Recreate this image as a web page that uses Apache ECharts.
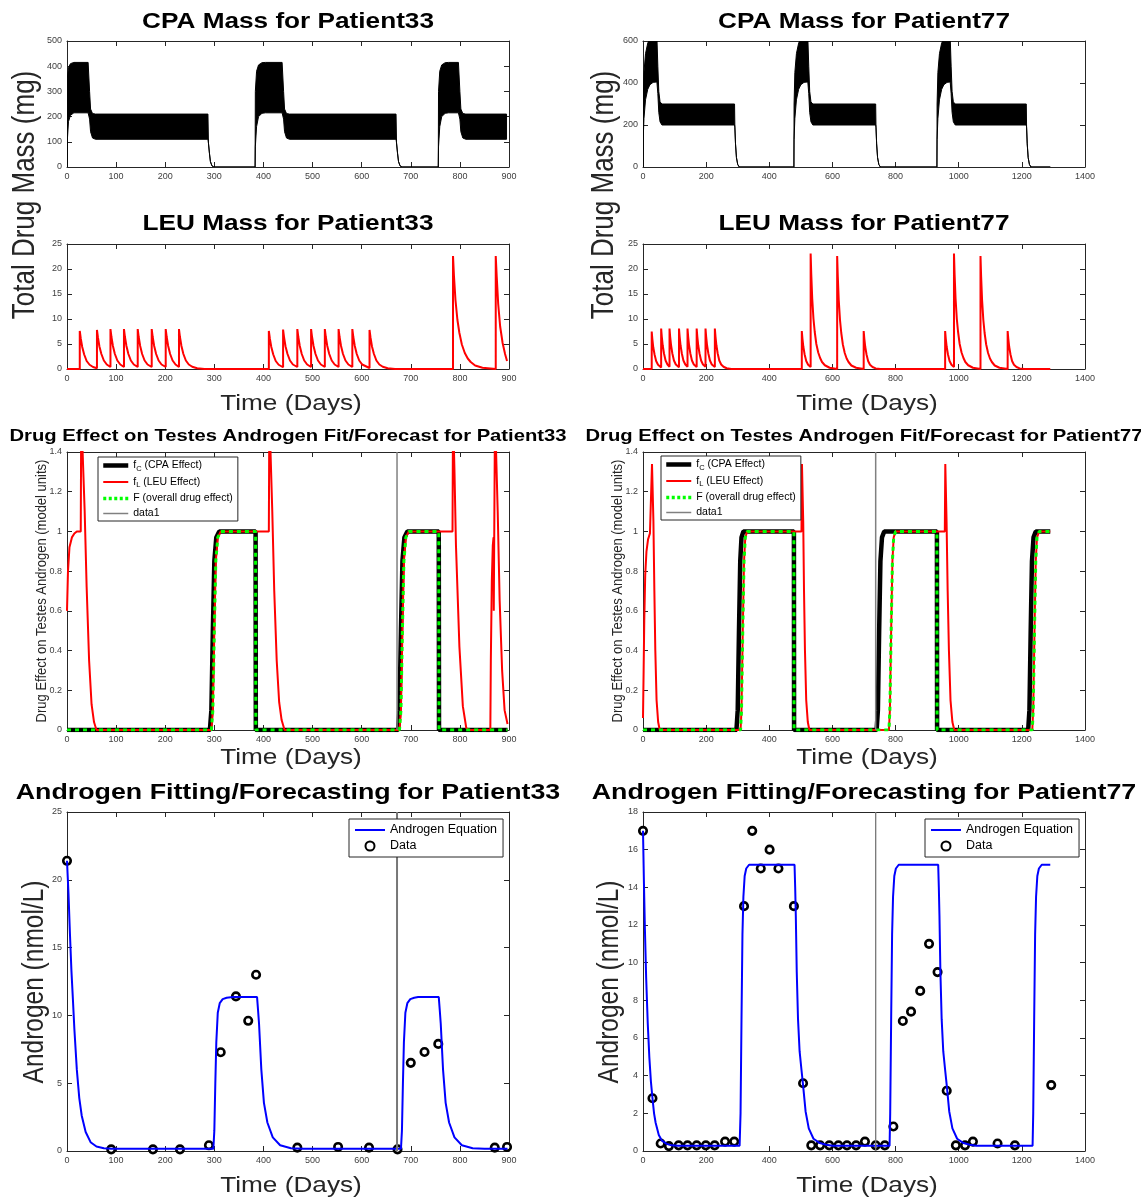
<!DOCTYPE html>
<html>
<head>
<meta charset="utf-8">
<title>Drug mass, drug effect and androgen fits for Patient33 / Patient77</title>
<script src="https://cdn.jsdelivr.net/npm/echarts/dist/echarts.min.js"></script>
<style>
  html, body { margin: 0; padding: 0; background: #fff; }
  #main { width: 1141px; height: 1203px; }
</style>
</head>
<body>
<div id="main"></div>
<script type="text/javascript">
  // ---------- CPA mass: dense daily dosing shows up as a band, so keep lower / upper envelope ----------
  var cpa33Days = [0, 0.5, 3, 7, 14, 43, 46, 48, 52, 58, 287, 288, 290, 292, 295, 299, 383, 383.5, 386, 390, 397, 404, 438, 441, 443, 447, 453, 670, 671, 673, 675, 678, 682, 756, 756.5, 759, 763, 770, 777, 797, 800, 802, 806, 812, 895];
  var cpa33Low  = [0, 100, 180, 205, 215, 215, 190, 140, 115, 110, 110, 95, 55, 22, 5, 0, 0, 80, 160, 200, 213, 215, 215, 190, 140, 115, 110, 110, 95, 55, 22, 5, 0, 0, 80, 160, 200, 213, 215, 215, 190, 140, 115, 110, 110];
  var cpa33High = [0, 350, 395, 410, 415, 415, 300, 230, 212, 210, 210, 95, 55, 22, 5, 0, 0, 300, 380, 405, 414, 415, 415, 300, 230, 212, 210, 210, 95, 55, 22, 5, 0, 0, 300, 380, 405, 414, 415, 415, 300, 230, 212, 210, 210];

  var cpa77Days = [0, 0.5, 3, 8, 15, 22, 32, 44, 47, 50, 54, 60, 290, 291, 293, 296, 300, 305, 478, 478.5, 481, 486, 493, 500, 510, 522, 525, 528, 532, 538, 737, 738, 740, 743, 747, 752, 931, 931.5, 934, 939, 946, 953, 963, 973, 976, 979, 983, 989, 1214, 1215, 1217, 1220, 1224, 1229, 1290];
  var cpa77Low  = [0, 130, 230, 320, 370, 392, 403, 405, 350, 260, 215, 200, 200, 190, 110, 45, 12, 0, 0, 130, 230, 320, 370, 392, 403, 405, 350, 260, 215, 200, 200, 190, 110, 45, 12, 0, 0, 130, 230, 320, 370, 392, 403, 405, 350, 260, 215, 200, 200, 190, 110, 45, 12, 0, 0];
  var cpa77High = [0, 300, 450, 540, 590, 610, 620, 620, 480, 360, 310, 300, 300, 190, 110, 45, 12, 0, 0, 300, 450, 540, 590, 610, 620, 620, 480, 360, 310, 300, 300, 190, 110, 45, 12, 0, 0, 300, 450, 540, 590, 610, 620, 620, 480, 360, 310, 300, 300, 190, 110, 45, 12, 0, 0];

  // ---------- LEU mass [day, mg] ----------
  var leu33 = [[0,0],[26,0],[26,7.6],[28,6.1],[31,4.4],[35,2.9],[40,1.6],[46,0.85],[53,0.4],[61,0.15],
    [61,7.8],[63,6.3],[66,4.5],[70,3.0],[75,1.7],[81,0.9],[88.5,0.4],
    [88.5,8.0],[90.5,6.4],[93.5,4.6],[97.5,3.0],[102.5,1.7],[108.5,0.9],[116,0.4],
    [116,8.0],[118,6.4],[121,4.6],[125,3.0],[130,1.7],[136,0.9],[144,0.4],
    [144,8.0],[146,6.4],[149,4.6],[153,3.0],[158,1.7],[164,0.9],[172.5,0.4],
    [172.5,8.0],[174.5,6.4],[177.5,4.6],[181.5,3.0],[186.5,1.7],[192.5,0.9],[201,0.4],
    [201,8.0],[203,6.4],[206,4.6],[210,3.0],[215,1.7],[221,0.9],[228,0.4],
    [228,8.0],[230,6.4],[233,4.6],[237,3.0],[242,1.7],[248,0.9],[255,0.45],[265,0.15],[280,0.02],[300,0],
    [411,0],[411,7.6],[413,6.1],[416,4.4],[420,2.9],[425,1.6],[431,0.85],[440,0.35],
    [440,7.9],[442,6.3],[445,4.5],[449,3.0],[454,1.7],[460,0.9],[469,0.4],
    [469,8.0],[471,6.4],[474,4.6],[478,3.0],[483,1.7],[489,0.9],[497,0.4],
    [497,8.0],[499,6.4],[502,4.6],[506,3.0],[511,1.7],[517,0.9],[525,0.4],
    [525,8.0],[527,6.4],[530,4.6],[534,3.0],[539,1.7],[545,0.9],[553,0.4],
    [553,8.0],[555,6.4],[558,4.6],[562,3.0],[567,1.7],[573,0.9],[581,0.4],
    [581,8.0],[583,6.4],[586,4.6],[590,3.0],[595,1.7],[601,0.9],[616,0.2],
    [616,7.8],[618,6.3],[621,4.5],[625,3.0],[630,1.7],[636,0.9],[643,0.45],[653,0.15],[668,0.02],[690,0],
    [786,0],[786,22.6],[788,18.5],[791,13.8],[795,9.8],[799,7.2],[804,4.9],[810,3.2],[816,2.1],[822,1.4],[831,0.7],[846,0.25],[873,0.02],
    [873,22.6],[875,18.5],[878,13.0],[882,8.5],[887,5.2],[892,3.0],[896,1.6]];

  var leu77 = [[0,0],[27.6,0],[27.6,7.5],[29.6,6.0],[32.6,4.3],[36.6,2.9],[41.6,1.6],[47.6,0.85],[57.5,0.3],
    [57.5,8.1],[59.5,6.5],[62.5,4.7],[66.5,3.1],[71.5,1.7],[77.5,0.9],[84,0.45],
    [84,8.1],[86,6.5],[89,4.7],[93,3.1],[98,1.7],[104,0.9],[114,0.35],
    [114,8.1],[116,6.5],[119,4.7],[123,3.1],[128,1.7],[134,0.9],[141,0.45],
    [141,8.1],[143,6.5],[146,4.7],[150,3.1],[155,1.7],[161,0.9],[170,0.4],
    [170,8.1],[172,6.5],[175,4.7],[179,3.1],[184,1.7],[190,0.9],[198,0.45],
    [198,8.1],[200,6.5],[203,4.7],[207,3.1],[212,1.7],[218,0.9],[227.6,0.4],
    [227.6,8.1],[229.6,6.5],[232.6,4.7],[236.6,3.1],[241.6,1.7],[247.6,0.9],[255,0.45],[265,0.15],[280,0.02],[300,0],
    [503,0],[503,7.6],[505,6.1],[508,4.4],[512,2.9],[517,1.6],[523,0.85],[531,0.4],
    [531,23.1],[533,18.9],[536,14.1],[540,10.0],[544,7.4],[549,5.0],[555,3.3],[561,2.2],[567,1.4],[576,0.75],[591,0.25],[615,0.02],
    [615,22.6],[617,18.5],[620,13.8],[624,9.8],[628,7.2],[633,4.9],[639,3.2],[645,2.1],[651,1.4],[660,0.7],[675,0.25],[699,0.02],
    [699,7.6],[701,6.1],[704,4.4],[708,2.9],[713,1.6],[719,0.85],[727,0.4],[737,0.12],[752,0.02],[770,0],
    [957,0],[957,7.6],[959,6.1],[962,4.4],[966,2.9],[971,1.6],[977,0.85],[985,0.4],
    [985,23.1],[987,18.9],[990,14.1],[994,10.0],[998,7.4],[1003,5.0],[1009,3.3],[1015,2.2],[1021,1.4],[1030,0.75],[1045,0.25],[1069,0.02],
    [1069,22.6],[1071,18.5],[1074,13.8],[1078,9.8],[1082,7.2],[1087,4.9],[1093,3.2],[1099,2.1],[1105,1.4],[1114,0.7],[1129,0.25],[1155,0.02],
    [1155,7.6],[1157,6.1],[1160,4.4],[1164,2.9],[1169,1.6],[1175,0.85],[1183,0.4],[1193,0.12],[1208,0.02],[1226,0],[1290,0]];

  // ---------- drug effect on testes androgen [day, value] ----------
  var fC33 = [[0,0],[291,0],[294,0.1],[297,0.5],[300,0.85],[304,0.97],[310,1],[384,1],[384.5,0],[674,0],[677,0.1],[680,0.5],[683,0.85],[687,0.97],[693,1],[757,1],[757.5,0],[897,0]];
  var fL33 = [[0,0.6],[2,0.8],[5,0.92],[10,0.97],[15,0.99],[20,1],[28,1],[29,1.6],[33,1.6],[36,1.1],[40,0.72],[45,0.35],[50,0.13],[55,0.04],[60,0],
    [294,0],[297,0.1],[300,0.5],[303,0.85],[307,0.97],[313,1],[411,1],[412,1.6],[414.5,1.6],[418,1.1],[422,0.7],[427,0.35],[432,0.14],[437,0.05],[443,0],
    [677,0],[680,0.1],[683,0.5],[686,0.85],[690,0.97],[696,1],[785,1],[786,1.6],[789,1.3],[792,0.93],[799,0.42],[806,0.12],[813,0.01],[818,0],
    [862,0],[863,0.35],[865,0.75],[867,0.93],[868.5,0.97],[869,0.6],[870.5,0.6],[871.5,1.6],[874,1.6],[877,1.1],[881,0.65],[886,0.3],[891,0.1],[897,0.03]];
  var F33  = [[0,0],[294,0],[297,0.1],[300,0.5],[303,0.85],[307,0.97],[313,1],[384,1],[384.5,0],[677,0],[680,0.1],[683,0.5],[686,0.85],[690,0.97],[696,1],[757,1],[757.5,0],[897,0]];
  var split33 = 672;

  var fC77 = [[0,0],[296,0],[300,0.1],[304,0.5],[308,0.85],[312,0.97],[318,1],[478,1],[478.5,0],[740,0],[744,0.1],[748,0.5],[752,0.85],[757,0.97],[764,1],[931,1],[931.5,0],[1220,0],[1224,0.1],[1228,0.5],[1232,0.85],[1237,0.97],[1244,1],[1290,1]];
  var fL77 = [[0,0.06],[2,0.3],[4,0.55],[7,0.78],[11,0.9],[16,0.96],[22,0.99],[27,1],[28.5,1.34],[31,1.34],[33,1.05],[36,0.7],[39,0.4],[43,0.15],[48,0.04],[53,0],
    [309,0],[312,0.1],[316,0.5],[320,0.85],[324,0.97],[330,1],[502,1],[503.5,1.34],[505.5,1.34],[507.5,1.05],[510,0.7],[513,0.4],[517,0.15],[522,0.04],[527,0],
    [779,0],[782,0.1],[786,0.5],[790,0.85],[794,0.97],[800,1],[956,1],[957.5,1.34],[959.5,1.34],[961.5,1.05],[965,0.7],[969,0.4],[974,0.15],[980,0.04],[986,0],
    [1233,0],[1236,0.1],[1240,0.5],[1244,0.85],[1248,0.97],[1255,1],[1290,1]];
  var F77  = [[0,0],[309,0],[312,0.1],[316,0.5],[320,0.85],[324,0.97],[330,1],[478,1],[478.5,0],[779,0],[782,0.1],[786,0.5],[790,0.85],[794,0.97],[800,1],[931,1],[931.5,0],[1233,0],[1236,0.1],[1240,0.5],[1244,0.85],[1248,0.97],[1255,1],[1290,1]];
  var split77 = 737;

  // ---------- androgen (nmol/L) ----------
  var andro33 = [[0,21.4],[3,19],[6,16],[9,13.3],[12,11.2],[15,9],[20,6],[25,3.9],[30,2.6],[38,1.4],[48,0.65],[60,0.33],[75,0.2],[90,0.16],
    [298,0.16],[300,1.5],[302,5],[304,8],[307,10.2],[311,10.9],[317,11.2],[325,11.3],[338,11.35],[387,11.35],[389,10.4],[391,9.4],[395.7,6],[401,3.55],[408,2.1],[419,1],[434,0.42],[456,0.2],[480,0.16],
    [680,0.16],[682,1.5],[684,5],[686,8],[689,10.2],[693,10.9],[699,11.2],[707,11.3],[715,11.35],[757,11.35],[759,10.4],[761,9.4],[765.7,6],[771,3.55],[778,2.1],[789,1],[804,0.42],[826,0.2],[850,0.16],[897,0.16]];
  var data33Days = [0, 90, 175, 230, 289, 313, 344, 369, 385, 469, 552, 615, 673, 700, 728, 756, 871, 896];
  var data33Vals = [21.4, 0.12, 0.12, 0.12, 0.42, 7.28, 11.4, 9.6, 13.0, 0.25, 0.3, 0.25, 0.12, 6.5, 7.3, 7.9, 0.25, 0.3];

  var andro77 = [[0,17],[3,14.2],[6,11.8],[10,9.2],[15,6.8],[20,5],[25,3.7],[30,2.8],[35,2],[40,1.5],[50,0.85],[60,0.55],[75,0.38],[90,0.3],[110,0.28],
    [306,0.28],[309,2],[312,7],[315,11.5],[318,13.5],[322,14.6],[327,15],[336,15.2],[480,15.2],[482,14],[484,12.5],[487,9.5],[491,7],[496,5.3],[502,4.3],[507,3.5],[515,2.1],[525,1.2],[540,0.65],[560,0.42],[580,0.33],[600,0.28],
    [781,0.28],[783,2],[786,7],[789,11.5],[792,13.5],[796,14.6],[801,15],[810,15.2],[935,15.2],[937,14],[939,12.5],[942,9.5],[946,7],[951,5.3],[957,4.3],[962,3.5],[970,2.1],[980,1.2],[995,0.65],[1015,0.42],[1035,0.33],[1055,0.28],
    [1234,0.28],[1236,2],[1239,7],[1242,11.5],[1245,13.5],[1249,14.6],[1254,15],[1263,15.2],[1290,15.2]];
  var data77Days = [0, 30, 56, 82, 113, 141, 170, 199, 227, 260, 289, 320, 346, 373, 401, 429, 478, 507, 533, 561, 590, 619, 646, 675, 703, 737, 766, 793, 823, 849, 878, 906, 933, 962, 991, 1020, 1045, 1123, 1178, 1293];
  var data77Vals = [17.0, 2.8, 0.4, 0.26, 0.3, 0.3, 0.3, 0.3, 0.3, 0.5, 0.5, 13.0, 17.0, 15.0, 16.0, 15.0, 13.0, 3.6, 0.3, 0.3, 0.3, 0.3, 0.3, 0.3, 0.5, 0.3, 0.3, 1.3, 6.9, 7.4, 8.5, 11.0, 9.5, 3.2, 0.3, 0.3, 0.5, 0.4, 0.3, 3.5];

  // axis ranges [min, max, interval] per panel: CPA33, CPA77, LEU33, LEU77, eff33, eff77, andro33, andro77
  var xRanges = [[0,900,100],[0,1400,200],[0,900,100],[0,1400,200],[0,900,100],[0,1400,200],[0,900,100],[0,1400,200]];
  var yRanges = [[0,500,100],[0,600,200],[0,25,5],[0,25,5],[0,1.4,0.2],[0,1.4,0.2],[0,25,5],[0,18,2]];

  // ---------- layout ----------
  var FONT = '"Liberation Sans", Arial, Helvetica, sans-serif';
  var STRETCH = 1.19; // the source figure is a bit wider than tall
  var colLeft = [67, 643], plotW = 442;
  var rows = [[41, 126], [244, 125], [452, 278], [812, 339]];
  var axisColor = '#262626';

  var grid = [], xAxis = [], yAxis = [];
  for (var g = 0; g < 8; g++) {
    var r = rows[Math.floor(g / 2)], c = colLeft[g % 2];
    grid.push({left: c, top: r[0], width: plotW, height: r[1], containLabel: false});
    var base = {
      gridIndex: g, type: 'value', splitLine: {show: false},
      axisLine: {onZero: false, lineStyle: {color: axisColor, width: 1}},
      axisTick: {inside: true, length: 5, lineStyle: {color: axisColor, width: 1}}
    };
    var lab = {fontSize: 9, color: '#404040', fontFamily: FONT, margin: 5,
               formatter: function (v) { return String(+v.toFixed(6)); }};
    var xr = xRanges[g], yr = yRanges[g];
    xAxis.push(Object.assign({}, base, {min: xr[0], max: xr[1], interval: xr[2], position: 'bottom', axisLabel: lab}));
    xAxis.push(Object.assign({}, base, {min: xr[0], max: xr[1], interval: xr[2], position: 'top', axisLabel: {show: false}}));
    yAxis.push(Object.assign({}, base, {min: yr[0], max: yr[1], interval: yr[2], position: 'left', axisLabel: lab}));
    yAxis.push(Object.assign({}, base, {min: yr[0], max: yr[1], interval: yr[2], position: 'right', axisLabel: {show: false}}));
  }

  function pairs(xs, ys) {
    return xs.map(function (x, i) { return [x, ys[i]]; });
  }

  function line(g, name, data, color, width, more) {
    return Object.assign({
      type: 'line', name: name, xAxisIndex: 2 * g, yAxisIndex: 2 * g,
      data: data, showSymbol: false, symbol: 'none', clip: true,
      lineStyle: {color: color, width: width}, itemStyle: {color: color}
    }, more || {});
  }

  // CPA band: polygon between upper and lower envelope, placed through the axes
  function band(g, days, lo, hi) {
    return {
      type: 'custom', name: 'cpa' + g, xAxisIndex: 2 * g, yAxisIndex: 2 * g, clip: true,
      data: [[days[0], lo[0]]],
      renderItem: function (params, api) {
        var pts = [];
        for (var i = 0; i < days.length; i++) pts.push(api.coord([days[i], hi[i]]));
        for (var j = days.length - 1; j >= 0; j--) pts.push(api.coord([days[j], lo[j]]));
        return {
          type: 'polygon', shape: {points: pts},
          style: {fill: '#000', stroke: '#000', lineWidth: 1}
        };
      }
    };
  }

  var series = [];
  series.push(band(0, cpa33Days, cpa33Low, cpa33High));
  series.push(band(1, cpa77Days, cpa77Low, cpa77High));
  series.push(line(2, 'leu33', leu33, '#ff0000', 2));
  series.push(line(3, 'leu77', leu77, '#ff0000', 2));

  [[4, fC33, fL33, F33, split33], [5, fC77, fL77, F77, split77]].forEach(function (p) {
    var g = p[0];
    series.push(line(g, 'fC', p[1], '#000000', 4.5));
    series.push(line(g, 'fL', p[2], '#ff0000', 2));
    series.push(line(g, 'F', p[3], '#00ff00', 3, {lineStyle: {color: '#00ff00', width: 3, type: [4, 4]}}));
    series.push(line(g, 'data1', [[p[4], 0], [p[4], 1.4]], '#808080', 1.5));
  });

  [[6, andro33, data33Days, data33Vals, split33, 25, 2], [7, andro77, data77Days, data77Vals, split77, 18, 1.3]].forEach(function (p) {
    var g = p[0];
    series.push(line(g, 'Androgen Equation', p[1], '#0000ff', 2));
    series.push({
      type: 'scatter', name: 'Data', xAxisIndex: 2 * g, yAxisIndex: 2 * g,
      data: pairs(p[2], p[3]), symbol: 'circle', symbolSize: 7.5,
      itemStyle: {color: '#ffffff', borderColor: '#000000', borderWidth: 2.6, opacity: 1}
    });
    series.push(line(g, 'cut' + g, [[p[4], 0], [p[4], p[5]]], '#777777', p[6]));
  });

  // ---------- legends ----------
  var effLabels = {
    fC: '{n|f}{s|C}{n| (CPA Effect)}',
    fL: '{n|f}{s|L}{n| (LEU Effect)}',
    F: '{n|F (overall drug effect)}',
    data1: '{n|data1}'
  };
  function effLegend(left, top) {
    return {
      data: [
        {name: 'fC', lineStyle: {color: '#000000', width: 4.5}},
        {name: 'fL', lineStyle: {color: '#ff0000', width: 2}},
        {name: 'F', lineStyle: {color: '#00ff00', width: 3.5, type: [3, 2.5]}},
        {name: 'data1', lineStyle: {color: '#808080', width: 1.5}}
      ],
      orient: 'vertical', left: left, top: top,
      itemWidth: 25, itemHeight: 8, itemGap: 4, padding: [3, 5, 2, 3],
      itemStyle: {opacity: 0},
      borderColor: axisColor, borderWidth: 1, backgroundColor: '#fff',
      formatter: function (name) { return effLabels[name]; },
      textStyle: {
        fontFamily: FONT, color: '#000',
        rich: {
          n: {fontSize: 10.5, fontFamily: FONT, color: '#000', lineHeight: 14},
          s: {fontSize: 7.5, fontFamily: FONT, color: '#000', verticalAlign: 'bottom', lineHeight: 8}
        }
      }
    };
  }
  function androLegend(left, top) {
    return {
      data: [
        {name: 'Androgen Equation', itemStyle: {opacity: 0}, lineStyle: {color: '#0000ff', width: 2}},
        {name: 'Data'}
      ],
      orient: 'vertical', left: left, top: top,
      itemWidth: 30, itemHeight: 9, itemGap: 0, padding: [3, 6, 3, 5],
      borderColor: axisColor, borderWidth: 1, backgroundColor: '#fff',
      textStyle: {fontFamily: FONT, fontSize: 12.5, color: '#000', lineHeight: 16}
    };
  }

  // ---------- titles and axis names (real text, stretched like the source) ----------
  function txt(text, x, y, size, bold, vertical) {
    var el = {
      type: 'text', x: x, y: y, silent: true,
      style: {
        text: text, fontSize: size, fontWeight: bold ? 'bold' : 'normal', fontFamily: FONT,
        fill: bold ? '#000' : '#262626',
        textAlign: 'center', textVerticalAlign: 'middle', align: 'center', verticalAlign: 'middle'
      }
    };
    if (vertical) { el.rotation = Math.PI / 2; el.scaleY = STRETCH; }
    else { el.scaleX = STRETCH; }
    return el;
  }
  var cL = colLeft[0] + plotW / 2, cR = colLeft[1] + plotW / 2;
  var texts = [
    txt('CPA Mass for Patient33', cL, 22, 22, true),
    txt('CPA Mass for Patient77', cR, 22, 22, true),
    txt('LEU Mass for Patient33', cL, 224, 22, true),
    txt('LEU Mass for Patient77', cR, 224, 22, true),
    txt('Drug Effect on Testes Androgen Fit/Forecast for Patient33', cL, 436, 17, true),
    txt('Drug Effect on Testes Androgen Fit/Forecast for Patient77', cR, 436, 17, true),
    txt('Androgen Fitting/Forecasting for Patient33', cL, 793, 22.5, true),
    txt('Androgen Fitting/Forecasting for Patient77', cR, 793, 22.5, true),
    txt('Total Drug Mass (mg)', 25, 195, 26, false, true),
    txt('Total Drug Mass (mg)', 604, 195, 26, false, true),
    txt('Time (Days)', cL + 3, 404, 22, false),
    txt('Time (Days)', cR + 3, 404, 22, false),
    txt('Drug Effect on Testes Androgen (model units)', 42, 591, 13, false, true),
    txt('Drug Effect on Testes Androgen (model units)', 618, 591, 13, false, true),
    txt('Time (Days)', cL + 3, 758, 22, false),
    txt('Time (Days)', cR + 3, 758, 22, false),
    txt('Androgen (nmol/L)', 35, 982, 24.5, false, true),
    txt('Androgen (nmol/L)', 610, 982, 24.5, false, true),
    txt('Time (Days)', cL + 3, 1186, 22, false),
    txt('Time (Days)', cR + 3, 1186, 22, false)
  ];

  var chart = echarts.init(document.getElementById('main'));
  chart.setOption({
    backgroundColor: '#ffffff',
    animation: false,
    grid: grid,
    xAxis: xAxis,
    yAxis: yAxis,
    legend: [effLegend(98, 457), effLegend(661, 456), androLegend(349, 819), androLegend(925, 819)],
    graphic: {elements: texts},
    series: series
  });
</script>
</body>
</html>
